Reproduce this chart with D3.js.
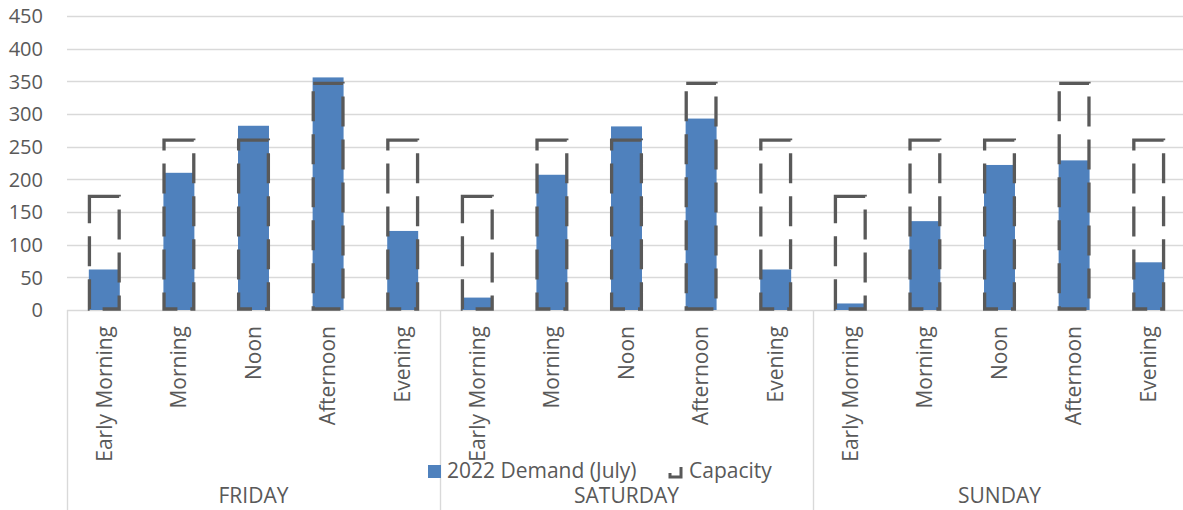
<!DOCTYPE html>
<html>
<head>
<meta charset="utf-8">
<script src="https://cdn.jsdelivr.net/npm/d3@7"></script>
<style>
  body { margin: 0; background: #fff; }
  svg { display: block; font-family: "Open Sans", sans-serif; }
</style>
</head>
<body>
<svg id="chart" width="1183" height="510"></svg>
<script>
// Data
const days = ['FRIDAY', 'SATURDAY', 'SUNDAY'];
const periods = ['Early Morning', 'Morning', 'Noon', 'Afternoon', 'Evening'];
const demand = [62, 210, 282, 356, 121,  19, 207, 281, 293, 62,  10, 136, 222, 229, 73];
const capacity = [174, 260, 260, 347, 260,  174, 260, 260, 347, 260,  174, 260, 260, 347, 260];
const yTicks = [0, 50, 100, 150, 200, 250, 300, 350, 400, 450];
const seriesNames = ['2022 Demand (July)', 'Capacity'];

const textColor = '#595959';
const gridColor = '#d9d9d9';
const barColor = '#4f81bd';
const capColor = '#595959';
const fontSize = '21px';

// one slot per day/period pair
const slots = [];
days.forEach(function(d) {
  periods.forEach(function(p) { slots.push(d + '|' + p); });
});

// plot area (window.top is taken, so name them differently)
const plotLeft = 67, plotRight = 1186, plotTop = 16, plotBottom = 310;

const svg = d3.select('#chart');

const x = d3.scaleBand().domain(slots).range([plotLeft, plotRight]).padding(0);
const y = d3.scaleLinear().domain([0, 450]).range([plotBottom, plotTop]);
const dayScale = d3.scaleBand().domain(days).range([plotLeft, plotRight]).padding(0);

const barW = x.bandwidth() * 0.415;

// gridlines
svg.append('g')
  .selectAll('line')
  .data(yTicks)
  .enter()
  .append('line')
  .attr('x1', plotLeft)
  .attr('x2', 1183)
  .attr('y1', d => Math.round(y(d)) + 0.5)
  .attr('y2', d => Math.round(y(d)) + 0.5)
  .attr('stroke', gridColor)
  .attr('stroke-width', 1.4);

// y axis labels
svg.append('g')
  .selectAll('text')
  .data(yTicks)
  .enter()
  .append('text')
  .attr('x', 43)
  .attr('y', d => y(d))
  .attr('dy', '0.36em')
  .attr('text-anchor', 'end')
  .attr('fill', textColor)
  .style('font-size', '20px')
  .text(d => d);

// category axis lines: left edge plus a divider after each day
const dividers = days.map(d => dayScale(d));
svg.append('g')
  .selectAll('line')
  .data(dividers)
  .enter()
  .append('line')
  .attr('x1', d => Math.round(d) + 0.5)
  .attr('x2', d => Math.round(d) + 0.5)
  .attr('y1', plotBottom)
  .attr('y2', 510)
  .attr('stroke', gridColor)
  .attr('stroke-width', 1.4);

// demand bars
svg.append('g')
  .selectAll('rect')
  .data(demand)
  .enter()
  .append('rect')
  .attr('x', (d, i) => x(slots[i]) + (x.bandwidth() - barW) / 2)
  .attr('y', d => y(d))
  .attr('width', barW)
  .attr('height', d => y(0) - y(d))
  .attr('fill', barColor);

// capacity bars - dashed outline only, drawn clockwise from top-left
function outline(x0, y0, w, h) {
  return 'M' + x0 + ',' + y0 + 'h' + w + 'v' + h + 'h' + (-w) + 'Z';
}

svg.append('g')
  .selectAll('path')
  .data(capacity)
  .enter()
  .append('path')
  .attr('d', (d, i) => outline(x(slots[i]) + (x.bandwidth() - barW) / 2 + 0.6, y(d), barW - 1.2, y(0) - y(d) - 1))
  .attr('fill', 'none')
  .attr('stroke', capColor)
  .attr('stroke-width', 3.3)
  .attr('stroke-dasharray', '30,13');

// period labels, rotated
svg.append('g')
  .selectAll('text')
  .data(slots)
  .enter()
  .append('text')
  .attr('transform', d => 'translate(' + (x(d) + x.bandwidth() / 2) + ',326) rotate(-90)')
  .attr('dy', '0.35em')
  .attr('text-anchor', 'end')
  .attr('fill', textColor)
  .style('font-size', fontSize)
  .text(d => d.split('|')[1]);

// day labels
svg.append('g')
  .selectAll('text')
  .data(days)
  .enter()
  .append('text')
  .attr('x', d => dayScale(d) + dayScale.bandwidth() / 2)
  .attr('y', 503)
  .attr('text-anchor', 'middle')
  .attr('fill', textColor)
  .style('font-size', fontSize)
  .text(d => d);

// legend
const legend = svg.append('g');
legend.append('rect')
  .attr('x', 428).attr('y', 465)
  .attr('width', 13).attr('height', 13)
  .attr('fill', barColor);
legend.append('text')
  .attr('x', 447).attr('y', 478)
  .attr('fill', textColor)
  .style('font-size', fontSize)
  .text(seriesNames[0]);
legend.append('path')
  .attr('d', outline(670, 467, 11, 10))
  .attr('fill', 'none')
  .attr('stroke', capColor)
  .attr('stroke-width', 3)
  .attr('stroke-dasharray', '0,11,25,7');
legend.append('text')
  .attr('x', 689).attr('y', 478)
  .attr('fill', textColor)
  .style('font-size', fontSize)
  .text(seriesNames[1]);
</script>
</body>
</html>
